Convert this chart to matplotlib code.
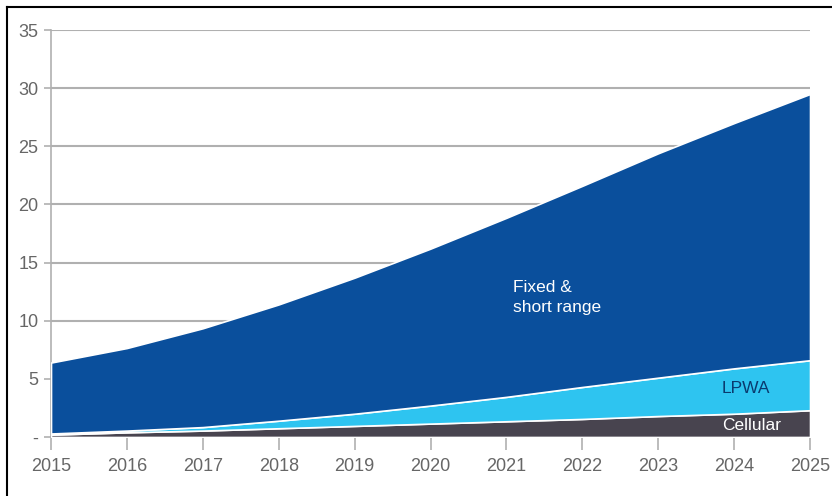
import matplotlib.pyplot as plt
from matplotlib.lines import Line2D
from matplotlib import font_manager

names = {f.name for f in font_manager.fontManager.ttflist}
base = 'Liberation Sans Narrow' if 'Liberation Sans Narrow' in names else 'Liberation Sans'
plt.rcParams['font.family'] = [base, 'DejaVu Sans']

years = [2015, 2016, 2017, 2018, 2019, 2020, 2021, 2022, 2023, 2024, 2025]
cellular = [0.2, 0.4, 0.55, 0.75, 0.95, 1.15, 1.35, 1.55, 1.8, 2.0, 2.3]
lpwa = [0.1, 0.15, 0.3, 0.65, 1.05, 1.55, 2.1, 2.75, 3.3, 3.9, 4.3]
fixed = [6.1, 7.1, 8.5, 10.0, 11.7, 13.5, 15.4, 17.3, 19.3, 21.1, 22.9]
yticks = [0, 5, 10, 15, 20, 25, 30, 35]
ylabels = ['-', '5', '10', '15', '20', '25', '30', '35']

fig = plt.figure(figsize=(8.32, 4.96), dpi=100)
ax = fig.add_axes([0.0613, 0.119, 0.9123, 0.8205])

ax.stackplot(years, cellular, lpwa, fixed,
             colors=['#48444f', '#2ec4f0', '#0a4f9c'],
             edgecolor='white', linewidth=1.2, zorder=3)

ax.set_xlim(2015, 2025)
ax.set_ylim(0, 35)
ax.set_xticks(years)
ax.set_yticks(yticks)
ax.set_yticklabels(ylabels)
for y in yticks[1:]:
    ax.axhline(y, color='#b0b0b0', lw=1.5, zorder=1)

for s in ['top', 'right']:
    ax.spines[s].set_visible(False)
for s in ['left', 'bottom']:
    ax.spines[s].set_color('#b0b0b0')
    ax.spines[s].set_linewidth(1.2)
ax.tick_params(axis='x', colors='#b0b0b0', length=9, width=1.2, labelcolor='#666666',
               labelsize=13, pad=6)
ax.tick_params(axis='y', colors='#b0b0b0', length=5, width=1.2, labelcolor='#666666',
               labelsize=13, pad=4)

ax.text(2021.09, 12.0, 'Fixed &\nshort range', color='white', fontsize=12.5,
        ha='left', va='center', linespacing=1.35, zorder=4)
ax.text(2023.84, 4.2, 'LPWA', color='#0a3a6e', fontsize=12.5, ha='left', va='center', zorder=4)
ax.text(2023.84, 0.95, 'Cellular', color='white', fontsize=12.5, ha='left', va='center', zorder=4)

fig.add_artist(Line2D([0.0084, 0.0084], [0, 0.986], color='black', lw=1.5))
fig.add_artist(Line2D([0.0084, 1], [0.986, 0.986], color='black', lw=1.5))

fig.savefig('out.png', dpi=100)
